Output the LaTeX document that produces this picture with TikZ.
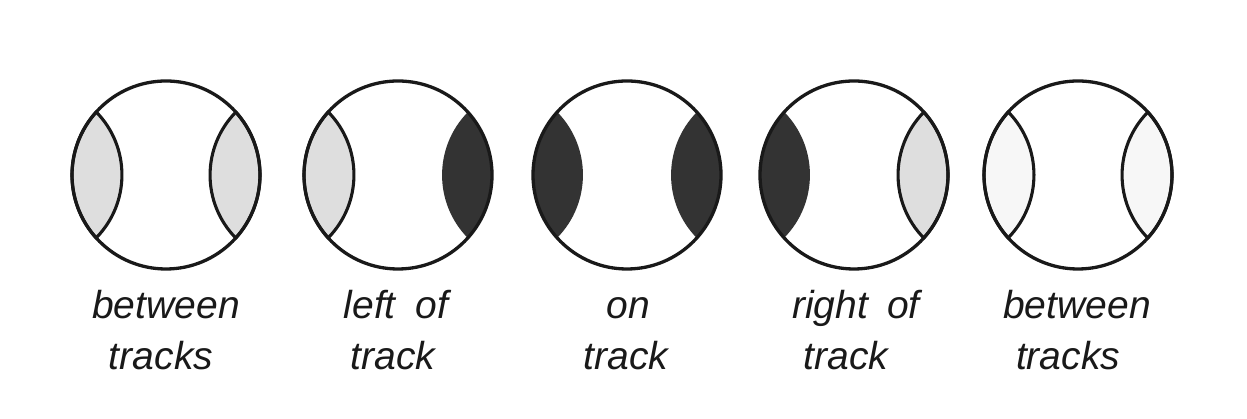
\documentclass[tikz,border=0pt]{standalone}
\usepackage{fontspec}
\setmainfont{Liberation Sans}
\tikzset{
  ring/.style={circle, draw=black!90, line width=3.3pt, minimum size=188pt, inner sep=0pt},
  lightlens/.style={fill=black!13, draw=black!90, line width=3.1pt, line join=round},
  darklens/.style={fill=black!80, draw=none},
  faintlens/.style={fill=black!3, draw=black!90, line width=3.1pt, line join=round},
  lab/.style={font=\fontsize{39}{46}\selectfont\itshape, anchor=base, inner sep=0pt, text=black!90},
}
% right lens: #1 centre coordinate, #2 style
\newcommand\rlens[2]{\path[#2] ([shift={(-42:94pt)}]#1) arc[start angle=-42, end angle=42, radius=94pt] arc[start angle=135.45, end angle=224.55, radius=89.8pt] -- cycle;}
\newcommand\llens[2]{\path[#2] ([shift={(138:94pt)}]#1) arc[start angle=138, end angle=222, radius=94pt] arc[start angle=-44.55, end angle=44.55, radius=89.8pt] -- cycle;}
\begin{document}
\begin{tikzpicture}[x=1pt, y=1pt]
  \useasboundingbox[fill=white] (0,0) rectangle (1247,419);
  \coordinate (k1) at (166,244);
  \coordinate (k2) at (398,244);
  \coordinate (k3) at (627,244);
  \coordinate (k4) at (854,244);
  \coordinate (k5) at (1078,244);
  % lenses
  \llens{k1}{lightlens} \rlens{k1}{lightlens}
  \llens{k2}{lightlens} \rlens{k2}{darklens}
  \llens{k3}{darklens}  \rlens{k3}{darklens}
  \llens{k4}{darklens}  \rlens{k4}{lightlens}
  \llens{k5}{faintlens} \rlens{k5}{faintlens}
  % circles
  \node[ring] (c1) at (k1) {};
  \node[ring] (c2) at (k2) {};
  \node[ring] (c3) at (k3) {};
  \node[ring] (c4) at (k4) {};
  \node[ring] (c5) at (k5) {};
  % labels
  \node[lab] (t1a) at (166,100) {between};
  \node[lab] (t1b) at (161,49) {tracks};
  \node[lab] (t2a) at (396,100) {left\hspace{20pt}of};
  \node[lab] (t2b) at (393,49) {track};
  \node[lab] (t3a) at (628,100) {on};
  \node[lab] (t3b) at (626,49) {track};
  \node[lab] (t4a) at (856,100) {right\hspace{19pt}of};
  \node[lab] (t4b) at (846,49) {track};
  \node[lab] (t5a) at (1077,100) {between};
  \node[lab] (t5b) at (1068,49) {tracks};
\end{tikzpicture}
\end{document}
